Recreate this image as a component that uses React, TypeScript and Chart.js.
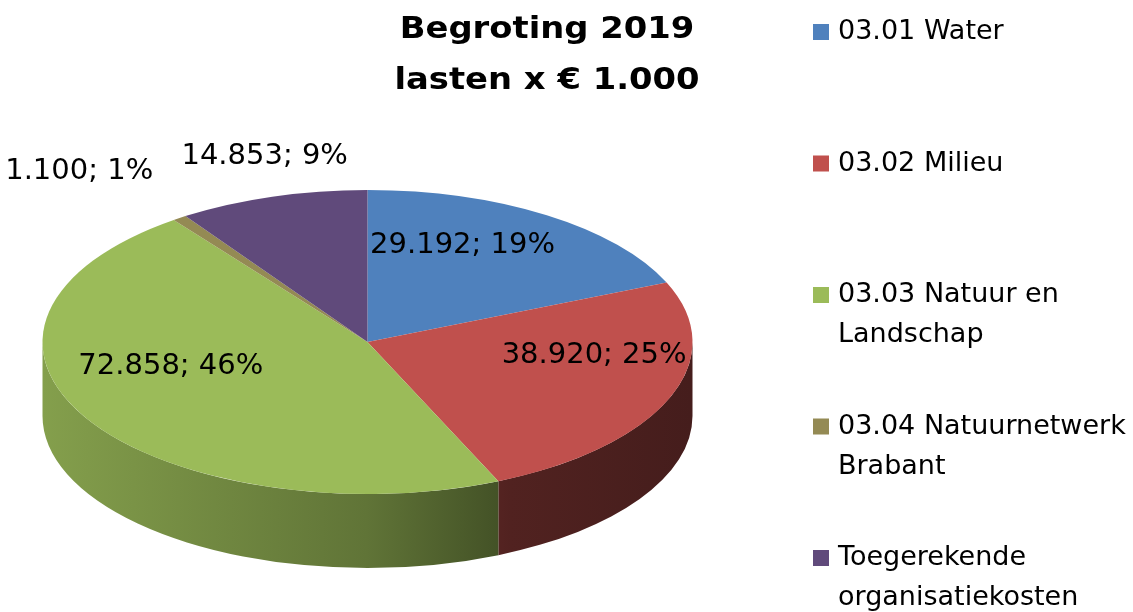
import React, { useEffect, useRef } from "react";
import { Chart, registerables } from "chart.js";

Chart.register(...registerables);

// ---- data ----
const titleLines = ["Begroting 2019", "lasten x € 1.000"];
const categories = [
  "03.01 Water",
  "03.02 Milieu",
  "03.03 Natuur en Landschap",
  "03.04 Natuurnetwerk Brabant",
  "Toegerekende organisatiekosten",
];
const legendLines = [
  ["03.01 Water"],
  ["03.02 Milieu"],
  ["03.03 Natuur en", "Landschap"],
  ["03.04 Natuurnetwerk", "Brabant"],
  ["Toegerekende", "organisatiekosten"],
];
const values = [29192, 38920, 72858, 1100, 14853];
const colors = ["#4F81BD", "#C0504D", "#9BBB59", "#948A54", "#604A7B"];

// ---- style ----
const labelRadius = [0.53, 0.75, 0.7, 1.14, 1.08];
const labelAlign = ["center", "center", "center", "right", "center"];
const ASPECT = 325 / 152;
const DEPTH = 74;
const APEX_SHIFT = -29;
const FONT = "'DejaVu Sans', sans-serif";

const fmt = (v: number) => String(v).replace(/\B(?=(\d{3})+(?!\d))/g, ".");

function shade(hex: string, f: number) {
  const n = parseInt(hex.slice(1), 16);
  const r = Math.round(((n >> 16) & 255) * f);
  const g = Math.round(((n >> 8) & 255) * f);
  const b = Math.round((n & 255) * f);
  return `rgb(${r},${g},${b})`;
}

const pie3d = {
  id: "pie3d",
  beforeDatasetsDraw(chart: any) {
    const ctx = chart.ctx;
    const arcs = chart.getDatasetMeta(0).data;
    ctx.save();
    if (!arcs.length) return;
    const cx = arcs[0].x;
    const cy = arcs[0].y;
    const ry = arcs[0].outerRadius;
    const rx = ry * ASPECT;
    arcs.forEach((arc: any, i: number) => {
      const s = Math.max(arc.startAngle, 0);
      const e = Math.min(arc.endAngle, Math.PI);
      if (e <= s) return;
      const c = colors[i];
      const g = ctx.createLinearGradient(cx - rx, 0, cx + rx, 0);
      g.addColorStop(0, shade(c, 0.85));
      g.addColorStop(0.5, shade(c, 0.62));
      g.addColorStop(0.72, shade(c, 0.42));
      g.addColorStop(1, shade(c, 0.36));
      ctx.beginPath();
      ctx.ellipse(cx, cy, rx, ry, 0, s, e, false);
      ctx.lineTo(cx + rx * Math.cos(e), cy + DEPTH + ry * Math.sin(e));
      ctx.ellipse(cx, cy + DEPTH, rx, ry, 0, e, s, true);
      ctx.closePath();
      ctx.fillStyle = g;
      ctx.fill();
    });
    ctx.translate(cx, 0);
    ctx.scale(ASPECT, 1);
    ctx.translate(-cx, 0);
  },
  afterDatasetsDraw(chart: any) {
    const ctx = chart.ctx;
    ctx.restore();
    const arcs = chart.getDatasetMeta(0).data;
    if (!arcs.length) return;
    const total = values.reduce((a, b) => a + b, 0);
    ctx.save();
    ctx.font = `29px ${FONT}`;
    ctx.fillStyle = "#000";
    ctx.textBaseline = "middle";
    arcs.forEach((arc: any, i: number) => {
      const mid = (arc.startAngle + arc.endAngle) / 2;
      const r = arc.outerRadius * labelRadius[i];
      const x = arc.x + ASPECT * r * Math.cos(mid);
      const y = arc.y + APEX_SHIFT + r * Math.sin(mid);
      const pct = Math.round((values[i] / total) * 100);
      ctx.textAlign = labelAlign[i];
      ctx.fillText(`${fmt(values[i])}; ${pct}%`, x, y);
    });
    ctx.restore();
  },
  afterDraw(chart: any) {
    const ctx = chart.ctx;
    ctx.save();
    // title
    ctx.save();
    ctx.translate(547, 0);
    ctx.scale(1.09, 1);
    ctx.font = `bold 31px ${FONT}`;
    ctx.fillStyle = "#000";
    ctx.textAlign = "center";
    ctx.textBaseline = "alphabetic";
    ctx.fillText(titleLines[0], 0, 38);
    ctx.fillText(titleLines[1], 0, 89);
    ctx.restore();
    // legend
    ctx.font = `27px ${FONT}`;
    ctx.textAlign = "left";
    ctx.textBaseline = "middle";
    legendLines.forEach((lines, i) => {
      const y0 = 32 + i * 131.5;
      ctx.fillStyle = colors[i];
      ctx.fillRect(813, y0 - 8, 16, 16);
      ctx.fillStyle = "#000";
      lines.forEach((t, j) => ctx.fillText(t, 838, y0 + j * 40));
    });
    ctx.restore();
  },
};

export default function App() {
  const ref = useRef<HTMLCanvasElement>(null);
  useEffect(() => {
    document.body.style.margin = "0";
    const chart = new Chart(ref.current!, {
      type: "pie",
      data: {
        labels: categories,
        datasets: [
          {
            data: values,
            backgroundColor: colors,
            borderWidth: 0,
            clip: false,
          } as any,
        ],
      },
      options: {
        animation: false,
        responsive: false,
        devicePixelRatio: 1,
        layout: { padding: { left: 40, right: 438, top: 190, bottom: 118 } },
        plugins: {
          legend: { display: false },
          title: { display: false },
          tooltip: { enabled: false },
        },
      },
      plugins: [pie3d],
    });
    return () => chart.destroy();
  }, []);
  return (
    <div style={{ width: 1133, height: 612, background: "#fff" }}>
      <canvas ref={ref} width={1133} height={612} style={{ display: "block" }} />
    </div>
  );
}
